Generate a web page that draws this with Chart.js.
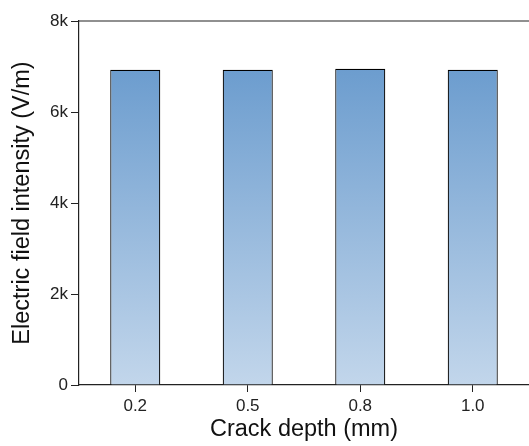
<!DOCTYPE html>
<html>
<head>
<meta charset="utf-8">
<script src="https://cdn.jsdelivr.net/npm/chart.js@4"></script>
<style>
  html, body { margin: 0; padding: 0; background: #fff; }
  #wrap { width: 529px; height: 446px; }
</style>
</head>
<body>
<div id="wrap"><canvas id="chart" width="529" height="446"></canvas></div>
<script>
// crack depth categories and field intensity values
const depths = ['0.2', '0.5', '0.8', '1.0'];
const intensity = [6930, 6930, 6950, 6930];
const yTicks = [0, 2000, 4000, 6000, 8000];

const fontFamily = 'Arial, "Liberation Sans", sans-serif';

// vertical gradient for bars, light at the bottom and darker at the top
function barGradient(ctx) {
    const area = ctx.chart.chartArea;
    if (!area) return '#8fb2d9';
    const g = ctx.chart.ctx.createLinearGradient(0, area.bottom, 0, area.top);
    g.addColorStop(0, '#c2d6eb');
    g.addColorStop(1, '#5f94ca');
    return g;
}

// top frame line
const topLine = {
    id: 'topLine',
    afterDraw(chart) {
        const { ctx, chartArea } = chart;
        ctx.save();
        ctx.strokeStyle = '#222';
        ctx.lineWidth = 1.2;
        ctx.beginPath();
        ctx.moveTo(chartArea.left, chartArea.top);
        ctx.lineTo(chartArea.right, chartArea.top);
        ctx.stroke();
        ctx.restore();
    }
};

new Chart(document.getElementById('chart'), {
    type: 'bar',
    data: {
        labels: depths,
        datasets: [{
            data: intensity,
            backgroundColor: barGradient,
            borderColor: '#000',
            borderWidth: 1.2,
            barPercentage: 0.445,
            categoryPercentage: 1
        }]
    },
    options: {
        responsive: false,
        animation: false,
        layout: { padding: { top: 21, right: 0, left: 0, bottom: 0 } },
        plugins: {
            legend: { display: false },
            tooltip: { enabled: false }
        },
        scales: {
            x: {
                afterFit(axis) { axis.height = 61; },
                grid: {
                    offset: false,
                    drawOnChartArea: false,
                    drawTicks: true,
                    tickLength: 7,
                    color: '#222'
                },
                border: { color: '#222', width: 1.2 },
                ticks: {
                    color: '#222',
                    font: { family: fontFamily, size: 17 },
                    padding: 4
                },
                title: {
                    display: true,
                    text: 'Crack depth (mm)',
                    color: '#111',
                    font: { family: fontFamily, size: 23.5 },
                    padding: { top: 0, bottom: 2 }
                }
            },
            y: {
                min: 0,
                max: 8000,
                afterFit(axis) { axis.width = 79; },
                afterBuildTicks(axis) {
                    axis.ticks = yTicks.map(v => ({ value: v }));
                },
                grid: {
                    drawOnChartArea: false,
                    drawTicks: true,
                    tickLength: 8,
                    color: '#222'
                },
                border: { color: '#222', width: 1.2 },
                ticks: {
                    color: '#222',
                    font: { family: fontFamily, size: 17 },
                    padding: 3,
                    callback: v => v === 0 ? '0' : (v / 1000) + 'k'
                },
                title: {
                    display: true,
                    text: 'Electric field intensity (V/m)',
                    color: '#111',
                    font: { family: fontFamily, size: 23.5 },
                    padding: { top: 8, bottom: 0 }
                }
            }
        }
    },
    plugins: [topLine]
});
</script>
</body>
</html>
